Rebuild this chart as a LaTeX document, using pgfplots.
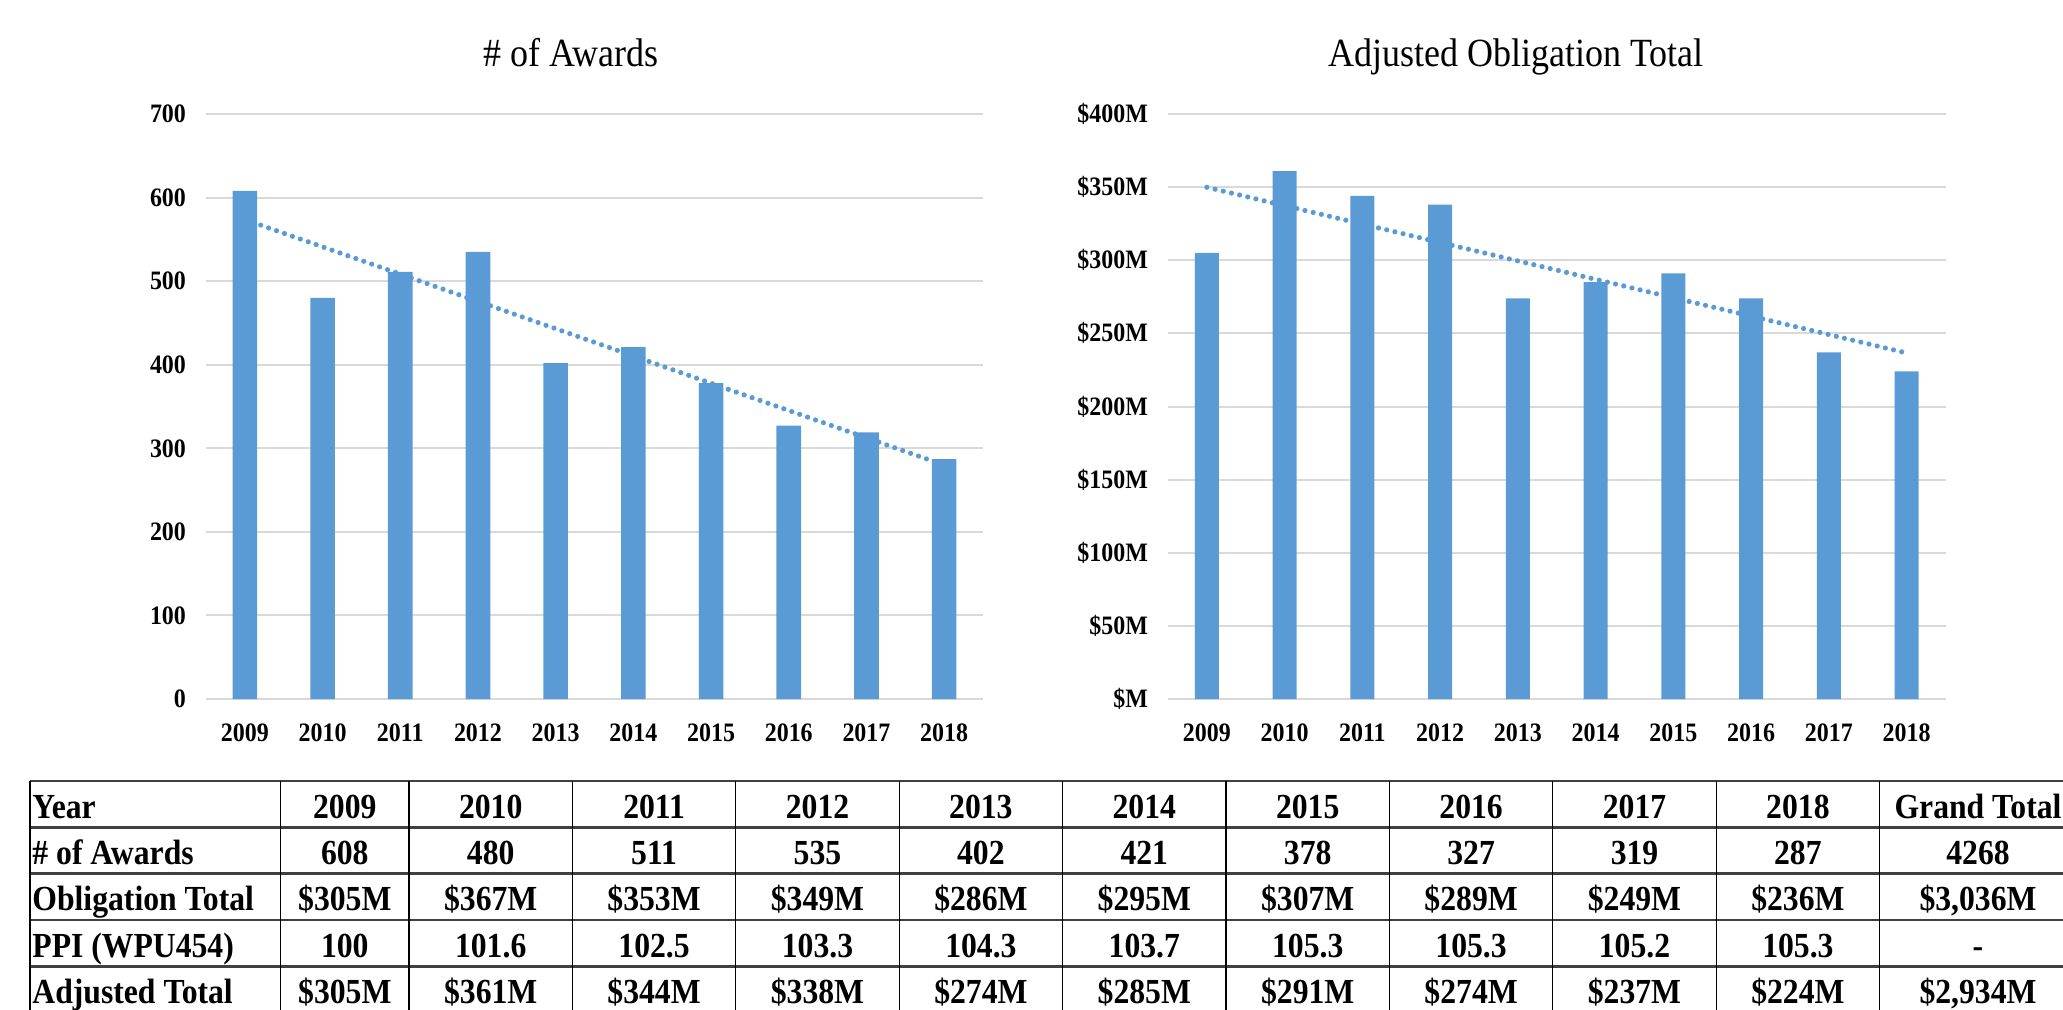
\documentclass[border=0pt]{standalone}
\usepackage{fontspec}
\setmainfont{Liberation Serif}[FakeStretch=0.9]
\usepackage{pgfplots}
\pgfplotsset{compat=1.18}

\definecolor{barblue}{HTML}{5B9BD5}
\definecolor{gridgray}{HTML}{D9D9D9}

% adjusted obligation total ($M) and award counts, per year 2009-2018
\pgfplotstableread{
x awards adjusted
0 608 305
1 480 361
2 511 344
3 535 338
4 402 274
5 421 285
6 378 291
7 327 274
8 319 237
9 287 224
}\yeardata

\pgfplotsset{
  chartstyle/.style={
    scale only axis,
    width=388.5pt, height=292.5pt,
    xmin=-0.5, xmax=9.5, ymin=0,
    xtick={0,...,9},
    xticklabels={2009,2010,2011,2012,2013,2014,2015,2016,2017,2018},
    axis line style={draw=none},
    tick style={draw=none},
    ymajorgrids,
    grid style={line width=1pt, gridgray},
    /pgf/number format/assume math mode=true,
    ticklabel style={font=\fontsize{13.3}{13.3}\selectfont\bfseries},
    xticklabel style={yshift=-9pt},
    yticklabel style={xshift=-6.5pt},
  },
  trend/.style={barblue, line width=2.6pt, line cap=round, dash pattern=on 0pt off 4.2pt},
}

\newcommand{\tabrow}[3]{%
  \node[anchor=base west, inner sep=0pt] at (16pt,#1) {#2};
  \foreach \v [count=\i] in {#3} {
    \ifnum\i=1
      \node[anchor=base, inner sep=0pt] at (172.4pt,#1) {\v};
    \else\ifnum\i=11
      \node[anchor=base, inner sep=0pt] at (989pt,#1) {\v};
    \else
      \pgfmathsetmacro{\cx}{245.35+81.7*(\i-2)}
      \node[anchor=base, inner sep=0pt] at (\cx pt,#1) {\v};
    \fi\fi
  }%
}

\begin{document}
\begin{tikzpicture}
\path[use as bounding box] (0,0) rectangle (1031.5pt,504.5pt);

% left chart: number of awards
\begin{axis}[chartstyle, at={(103pt,155pt)}, anchor=south west,
  ymax=700, ytick={0,100,...,700}]
\addplot[ybar, bar width=12.3pt, fill=barblue, draw=none] table[x=x, y=awards] {\yeardata};
\addplot[trend] coordinates {(0,573.7) (9,279.9)};
\end{axis}

% right chart: adjusted obligation total
\begin{axis}[chartstyle, at={(584pt,155pt)}, anchor=south west,
  width=388.75pt,
  ymax=400, ytick={0,50,...,400},
  yticklabels={\$M,\$50M,\$100M,\$150M,\$200M,\$250M,\$300M,\$350M,\$400M}]
\addplot[ybar, bar width=12pt, fill=barblue, draw=none] table[x=x, y=adjusted] {\yeardata};
\addplot[trend] coordinates {(0,349.9) (9,236.6)};
\end{axis}

% titles
\node[anchor=base, inner sep=0pt, font=\fontsize{20}{20}\selectfont] at (285.5pt,471pt) {\# of Awards};
\node[anchor=base, inner sep=0pt, font=\fontsize{20}{20}\selectfont] at (758pt,471pt) {Adjusted Obligation Total};

% table grid
\foreach \yy in {114,90.75,67.75,44.5,21.25,-2}
  \draw[line width=1.3pt, black!75] (15pt,\yy pt) -- (1040pt,\yy pt);
\foreach \xx in {15,140.25,204.5,286.2,367.9,449.6,531.3,613,694.7,776.4,858.1,939.8,1038.5}
  \draw[line width=0.6pt, black] (\xx pt,114pt) -- (\xx pt,-2pt);

\begingroup
\fontsize{17.6}{17.6}\selectfont\bfseries
\tabrow{95.5pt}{Year}{2009,2010,2011,2012,2013,2014,2015,2016,2017,2018,Grand Total}
\tabrow{72.5pt}{\# of Awards}{608,480,511,535,402,421,378,327,319,287,4268}
\tabrow{49.3pt}{Obligation Total}{\$305M,\$367M,\$353M,\$349M,\$286M,\$295M,\$307M,\$289M,\$249M,\$236M,{\$3,036M}}
\tabrow{26pt}{PPI (WPU454)}{100,101.6,102.5,103.3,104.3,103.7,105.3,105.3,105.2,105.3,-}
\tabrow{2.8pt}{Adjusted Total}{\$305M,\$361M,\$344M,\$338M,\$274M,\$285M,\$291M,\$274M,\$237M,\$224M,{\$2,934M}}
\endgroup
\end{tikzpicture}
\end{document}
